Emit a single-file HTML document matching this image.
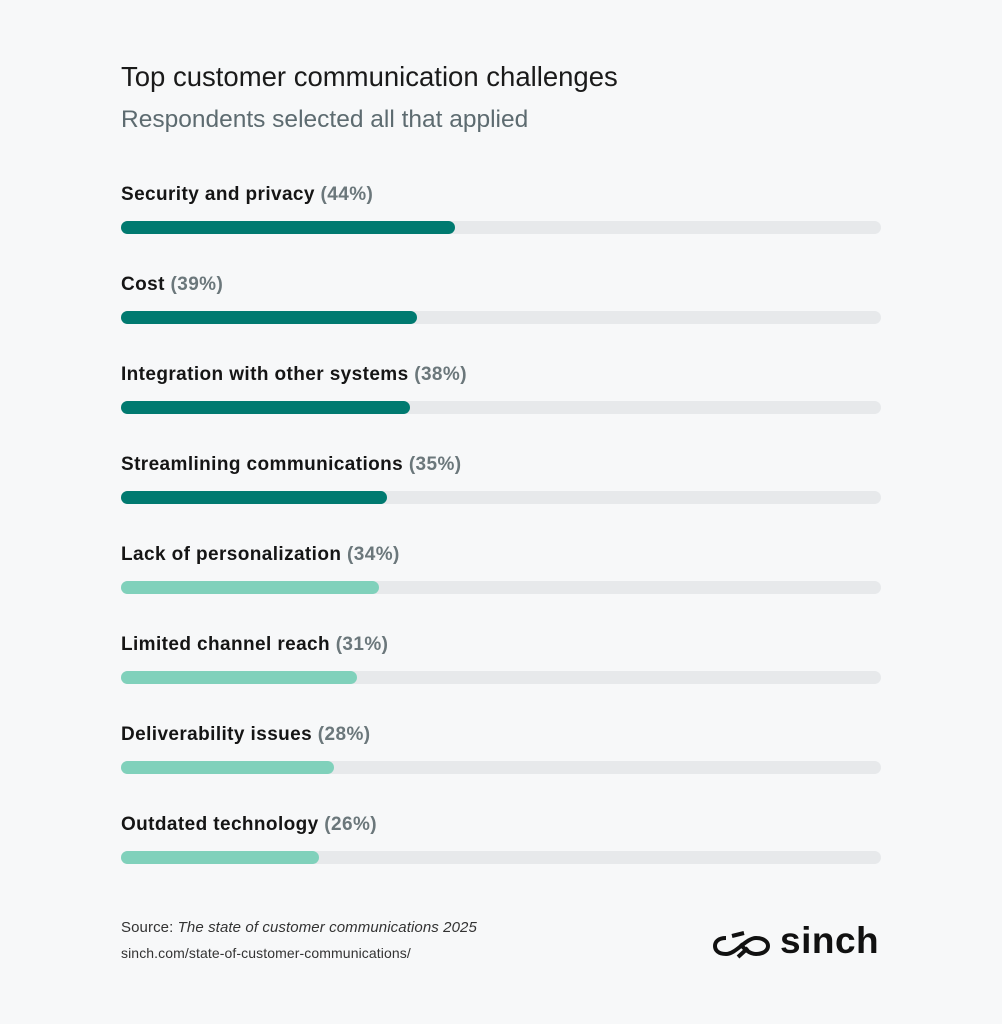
<!DOCTYPE html>
<html><head><style>
body{margin:0;width:1002px;height:1024px;background:#f7f8f9;font-family:"Liberation Sans",sans-serif;position:relative;overflow:hidden;color:#111}
.t{position:absolute;left:121px;top:61px;font-size:27.5px;color:#1a1a1a}
.s{position:absolute;left:121px;top:106px;font-size:24.5px;color:#5d6b70}
.row{position:absolute;left:121px;width:760px}
.lab{font-size:19px;font-weight:bold;color:#151515;height:25px;letter-spacing:0.4px}
.lab span{color:#6b777b}
.tr{position:absolute;top:37px;left:0;width:760px;height:13px;border-radius:7px;background:#e7e9eb}
.f{height:13px;border-radius:7px}
.d{background:#007a70}.l{background:#80d1bb}
.src{position:absolute;left:121px;top:919px;font-size:15px;color:#333;letter-spacing:0.1px}
.url{position:absolute;left:121px;top:945px;font-size:14px;color:#333;letter-spacing:0.1px}
</style></head><body>
<div class="t">Top customer communication challenges</div>
<div class="s">Respondents selected all that applied</div>
<div class="row" style="top:184px"><div class="lab">Security and privacy <span>(44%)</span></div><div class="tr"><div class="f d" style="width:334px"></div></div></div>
<div class="row" style="top:274px"><div class="lab">Cost <span>(39%)</span></div><div class="tr"><div class="f d" style="width:296px"></div></div></div>
<div class="row" style="top:364px"><div class="lab">Integration with other systems <span>(38%)</span></div><div class="tr"><div class="f d" style="width:289px"></div></div></div>
<div class="row" style="top:454px"><div class="lab">Streamlining communications <span>(35%)</span></div><div class="tr"><div class="f d" style="width:266px"></div></div></div>
<div class="row" style="top:544px"><div class="lab">Lack of personalization <span>(34%)</span></div><div class="tr"><div class="f l" style="width:258px"></div></div></div>
<div class="row" style="top:634px"><div class="lab">Limited channel reach <span>(31%)</span></div><div class="tr"><div class="f l" style="width:236px"></div></div></div>
<div class="row" style="top:724px"><div class="lab">Deliverability issues <span>(28%)</span></div><div class="tr"><div class="f l" style="width:213px"></div></div></div>
<div class="row" style="top:814px"><div class="lab">Outdated technology <span>(26%)</span></div><div class="tr"><div class="f l" style="width:198px"></div></div></div>
<div class="src">Source: <i>The state of customer communications 2025</i></div>
<div class="url">sinch.com/state-of-customer-communications/</div>
<svg style="position:absolute;left:712px;top:928px" width="60" height="34" viewBox="0 0 60 34">
<path d="M14 10 C6 10 3 14 3 18 C3 22 6 26 14 26 C24 26 34 10 44 10 C52 10 56 14 56 18 C56 22 52 26 44 26 C36 26 30 18 28 16" fill="none" stroke="#111" stroke-width="4"/>
<path d="M20 8 L32 5 M26 29 L36 20" stroke="#111" stroke-width="4"/>
</svg>
<div style="position:absolute;left:780px;top:920px;font-size:37px;font-weight:bold;color:#111;letter-spacing:0.5px">sinch</div>
</body></html>
